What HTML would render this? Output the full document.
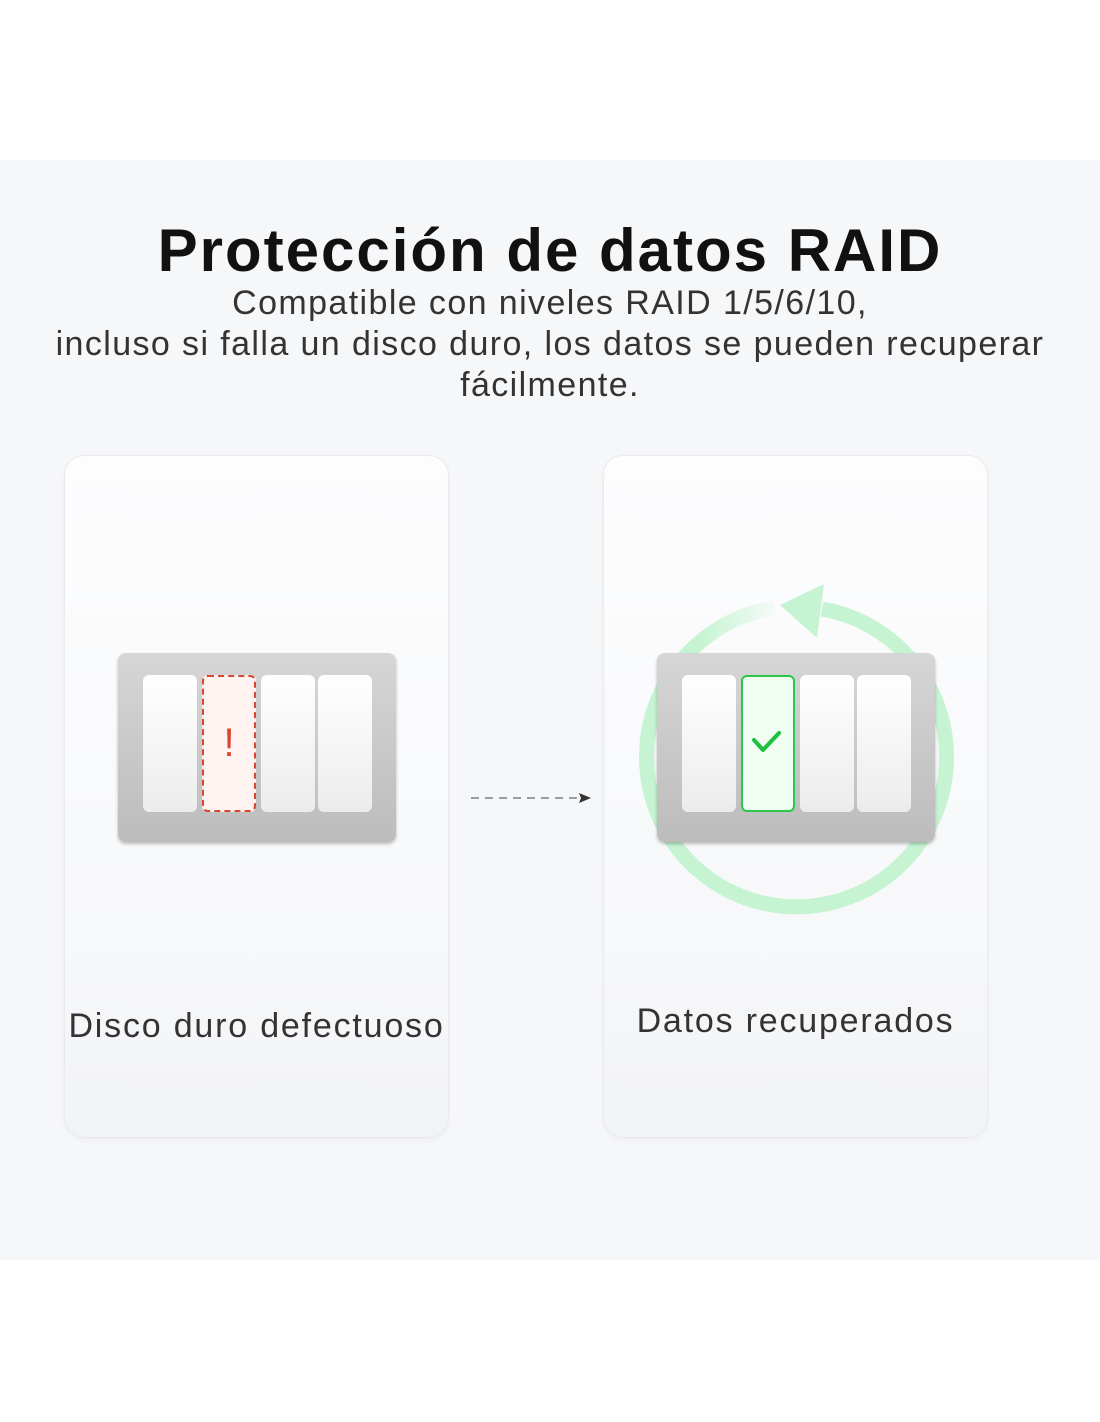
<!DOCTYPE html>
<html><head><meta charset="utf-8"><style>
*{margin:0;padding:0;box-sizing:border-box}
body{width:1100px;height:1422px;background:#fff;position:relative;font-family:"Liberation Sans",sans-serif;overflow:hidden}
.band{position:absolute;left:0;top:160px;width:1100px;height:1100px;background:#f6f7f9}
.t{position:absolute;left:0;width:1100px;text-align:center;color:#111;white-space:nowrap}
.card{position:absolute;top:455px;width:385px;height:683px;border-radius:20px;background:linear-gradient(#fdfdfe,#f7f8fa 70%,#f2f3f6);border:1.5px solid #e9eaee;box-shadow:0 2px 6px rgba(0,0,0,.04)}
.enc{position:absolute;width:278px;height:189px;border-radius:8px;background:linear-gradient(#d6d6d6,#bcbcbc);box-shadow:0 2px 3px rgba(0,0,0,.25)}
.bay{position:absolute;top:22px;width:54px;height:137px;border-radius:6px;background:linear-gradient(#fff,#ececec)}
</style></head><body>
<div class="band"></div>
<div class="t" style="top:216px;font-size:60px;font-weight:bold;letter-spacing:2px">Protección de datos RAID</div>
<div class="t" style="top:283px;font-size:34px;letter-spacing:1.4px;color:#333;line-height:41px">Compatible con niveles RAID 1/5/6/10,<br>incluso si falla un disco duro, los datos se pueden recuperar<br>fácilmente.</div>
<div class="card" style="left:64px"></div>
<div class="card" style="left:603px"></div>
<div class="enc" style="left:118px;top:653px">
 <div class="bay" style="left:25px"></div>
 <div class="bay" style="left:84px;background:#fff3f1;border:2px dashed #d9452f;color:#d9452f;font-size:40px;text-align:center;line-height:133px">!</div>
 <div class="bay" style="left:143px"></div>
 <div class="bay" style="left:200px"></div>
</div>
<svg style="position:absolute;left:0;top:0" width="1100" height="1422">
 <defs><linearGradient id="g" x1="700" y1="0" x2="775" y2="0" gradientUnits="userSpaceOnUse"><stop offset="0" stop-color="#c6f4d2"/><stop offset="1" stop-color="#c6f4d2" stop-opacity="0.1"/></linearGradient></defs>
 <line x1="471" y1="798" x2="584" y2="798" stroke="#9a9aa6" stroke-width="2" stroke-dasharray="8,6"/>
 <polygon points="591,798 579,793 581,798 579,803" fill="#333"/>
 <path d="M822 609 A150 150 0 1 1 700 642" fill="none" stroke="#c6f4d2" stroke-width="15"/>
 <path d="M700 642 A150 150 0 0 1 775 608" fill="none" stroke="url(#g)" stroke-width="15"/>
 <polygon points="780,605 824,584 817,638" fill="#c6f4d2"/>
</svg>
<div class="enc" style="left:657px;top:653px">
 <div class="bay" style="left:25px"></div>
 <div class="bay" style="left:84px;background:#effdf3;border:2px solid #2cc84a"><svg width="50" height="133" style="position:absolute;left:0;top:0"><polyline points="11,63 20,73 36,56" fill="none" stroke="#1fbf3f" stroke-width="4" stroke-linecap="round" stroke-linejoin="round"/></svg></div>
 <div class="bay" style="left:143px"></div>
 <div class="bay" style="left:200px"></div>
</div>
<div class="t" style="left:64px;width:385px;top:1007px;font-size:34px;letter-spacing:1.8px;color:#333">Disco duro defectuoso</div>
<div class="t" style="left:603px;width:385px;top:1002px;font-size:34px;letter-spacing:1.8px;color:#333">Datos recuperados</div>
</body></html>
